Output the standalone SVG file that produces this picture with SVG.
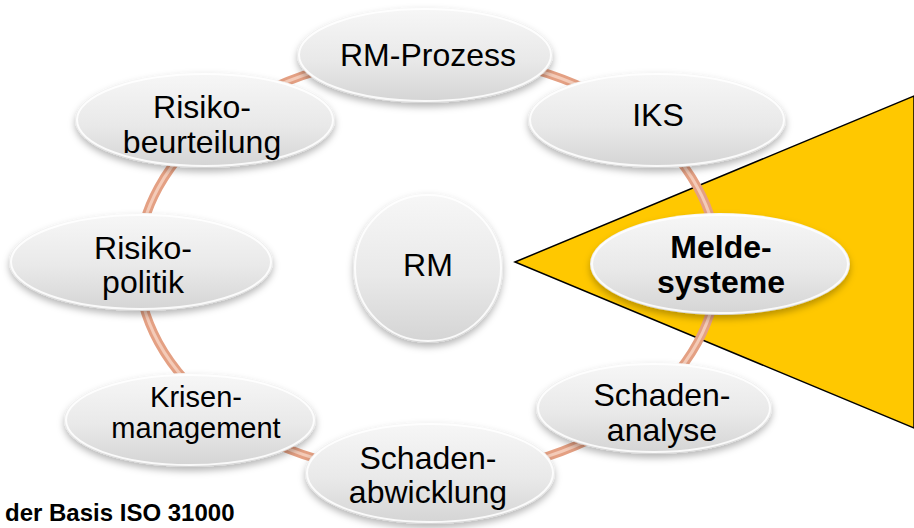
<svg xmlns="http://www.w3.org/2000/svg" width="914" height="528" viewBox="0 0 914 528">
  <defs>
    <linearGradient id="nodeFill" x1="0" y1="0" x2="0" y2="1">
      <stop offset="0" stop-color="#f7f7f7"/>
      <stop offset="0.55" stop-color="#e9e9e9"/>
      <stop offset="1" stop-color="#d4d4d4"/>
    </linearGradient>
    <filter id="shadow" x="-20%" y="-20%" width="140%" height="150%">
      <feDropShadow dx="0" dy="4" stdDeviation="3.5" flood-color="#000" flood-opacity="0.28"/>
    </filter>
  </defs>
  <style>
    .node { fill: url(#nodeFill); filter: url(#shadow); }
    .rim { fill: none; stroke: #ffffff; stroke-width: 2; stroke-opacity: 0.85; }
    .lbl { font-family: "Liberation Sans", Arial, sans-serif; font-size: 32px; fill: #000; text-anchor: middle; }
    .sm { font-size: 29px; }
    .bold { font-weight: bold; font-size: 32px; }
    .ring { fill: none; stroke: #e4a083; stroke-width: 9; }
    .ringHi { fill: none; stroke: #f4cbb8; stroke-width: 3; }
  </style>

  <rect width="914" height="528" fill="#ffffff"/>

  <!-- highlight wedge pointing at the centre -->
  <polygon points="515,262 914,96 914,428" fill="#ffc800" stroke="#000" stroke-width="1.5" stroke-linejoin="miter"/>

  <!-- ring linking the process elements -->
  <g id="connectors">
    <ellipse class="ring" cx="428" cy="265" rx="290" ry="210"/>
    <ellipse class="ringHi" cx="428" cy="265" rx="290" ry="210"/>
  </g>

  <g id="rm-prozess">
    <ellipse class="node" cx="425" cy="55" rx="128" ry="48"/>
    <ellipse class="rim" cx="425" cy="55" rx="126" ry="46"/>
    <text class="lbl" x="428" y="66">RM-Prozess</text>
  </g>

  <g id="iks">
    <ellipse class="node" cx="657" cy="120" rx="129" ry="48"/>
    <ellipse class="rim" cx="657" cy="120" rx="127" ry="46"/>
    <text class="lbl" x="658" y="126">IKS</text>
  </g>

  <g id="meldesysteme">
    <ellipse class="node" cx="720" cy="264" rx="130" ry="51"/>
    <ellipse class="rim" cx="720" cy="264" rx="128" ry="49"/>
    <text class="lbl bold" x="721" y="258">Melde-</text>
    <text class="lbl bold" x="721" y="293">systeme</text>
  </g>

  <g id="schadenanalyse">
    <ellipse class="node" cx="654" cy="408" rx="118" ry="46"/>
    <ellipse class="rim" cx="654" cy="408" rx="116" ry="44"/>
    <text class="lbl" x="662" y="406">Schaden-</text>
    <text class="lbl" x="662" y="441">analyse</text>
  </g>

  <g id="schadenabwicklung">
    <ellipse class="node" cx="430" cy="473" rx="125" ry="51"/>
    <ellipse class="rim" cx="430" cy="473" rx="123" ry="49"/>
    <text class="lbl" x="428" y="469">Schaden-</text>
    <text class="lbl" x="428" y="503">abwicklung</text>
  </g>

  <g id="krisenmanagement">
    <ellipse class="node" cx="190" cy="420" rx="126" ry="47"/>
    <ellipse class="rim" cx="190" cy="420" rx="124" ry="45"/>
    <text class="lbl sm" x="196" y="407">Krisen-</text>
    <text class="lbl sm" x="196" y="438">management</text>
  </g>

  <g id="risikopolitik">
    <ellipse class="node" cx="141" cy="262" rx="132" ry="49"/>
    <ellipse class="rim" cx="141" cy="262" rx="130" ry="47"/>
    <text class="lbl" x="143" y="259">Risiko-</text>
    <text class="lbl" x="143" y="293">politik</text>
  </g>

  <g id="risikobeurteilung">
    <ellipse class="node" cx="205" cy="120" rx="130" ry="48"/>
    <ellipse class="rim" cx="205" cy="120" rx="128" ry="46"/>
    <text class="lbl" x="202" y="118">Risiko-</text>
    <text class="lbl" x="202" y="153">beurteilung</text>
  </g>

  <g id="rm">
    <circle class="node" cx="428" cy="268" r="75"/>
    <circle class="rim" cx="428" cy="268" r="73"/>
    <text class="lbl" x="428" y="276">RM</text>
  </g>

  <text x="5" y="521" font-family="Liberation Sans, Arial, sans-serif" font-size="24" font-weight="bold" fill="#000">der Basis ISO 31000</text>
</svg>
